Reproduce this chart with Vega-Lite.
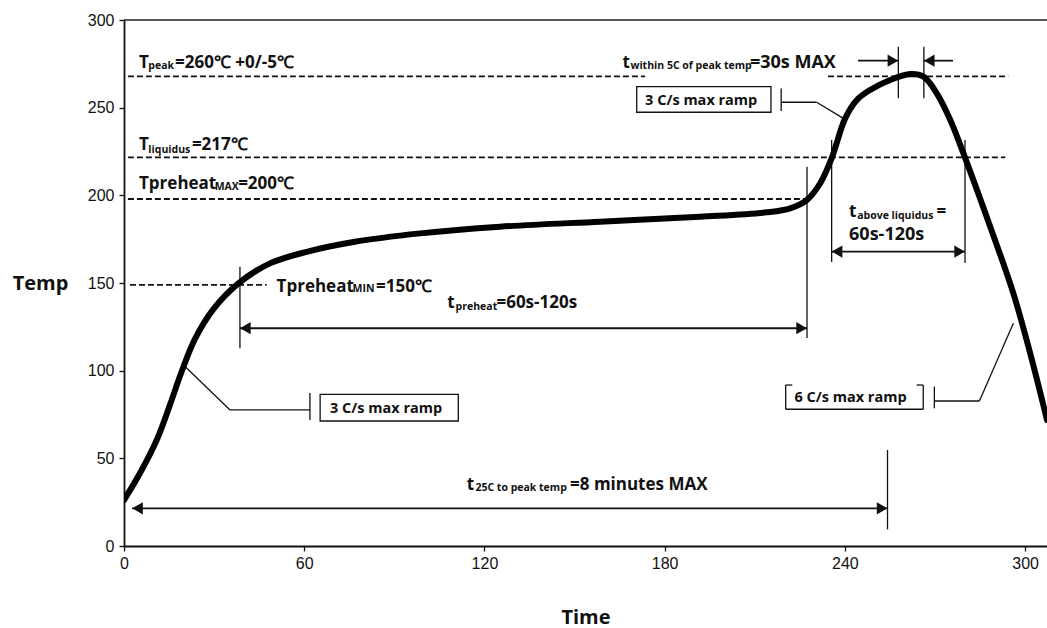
{
  "$schema": "https://vega.github.io/schema/vega-lite/v6.json",
  "width": 923,
  "height": 526,
  "autosize": {"type": "none"},
  "padding": {"left": 124, "top": 20, "right": 0, "bottom": 82},
  "background": "white",
  "config": {
    "view": {"stroke": null},
    "axis": {"grid": false, "labelFont": "Liberation Sans", "labelFontSize": 16, "labelColor": "#111", "tickColor": "#111", "tickSize": 5, "tickWidth": 1.3, "domainColor": "#111", "domainWidth": 1.8, "titleFont": "Open Sans", "titleFontSize": 20, "titleFontWeight": "bold", "titleColor": "#111", "labelFlush": false},
    "text": {"font": "Open Sans", "fontWeight": "bold", "color": "#111", "align": "left", "baseline": "alphabetic"}
  },
  "datasets": {
    "profile": [
      {"time": 0, "temp": 26.2}, {"time": 5.3, "temp": 41.5}, {"time": 10.9, "temp": 60.5}, {"time": 15.3, "temp": 80.5},
      {"time": 19.2, "temp": 99.5}, {"time": 23.6, "temp": 118.0}, {"time": 29.7, "temp": 135.0}, {"time": 38.1, "temp": 149.8},
      {"time": 48.6, "temp": 161.2}, {"time": 60.8, "temp": 167.8}, {"time": 76.4, "temp": 173.4}, {"time": 98.6, "temp": 178.3},
      {"time": 125.2, "temp": 182.1}, {"time": 158.5, "temp": 185.0}, {"time": 191.8, "temp": 187.8}, {"time": 214.0, "temp": 190.3},
      {"time": 221.8, "temp": 192.6}, {"time": 227.3, "temp": 197.3}, {"time": 231.8, "temp": 206.9}, {"time": 235.6, "temp": 221.1},
      {"time": 240.1, "temp": 243.9}, {"time": 244.0, "temp": 254.4}, {"time": 248.4, "temp": 260.1}, {"time": 255.1, "temp": 265.8},
      {"time": 261.8, "temp": 269.2}, {"time": 266.2, "temp": 267.7}, {"time": 270.6, "temp": 258.2}, {"time": 275.1, "temp": 243.0},
      {"time": 280.1, "temp": 221.1}, {"time": 288.4, "temp": 182.1}, {"time": 296.1, "temp": 144.1}, {"time": 301.7, "temp": 109.9},
      {"time": 307.3, "temp": 71.9}
    ],
    "frame": [{"time": 0, "time2": 307.3, "temp": 300}],
    "limits": [
      {"time": 1.3, "time2": 173.5, "temp": 267.9},
      {"time": 234.4, "time2": 294.4, "temp": 267.9},
      {"time": 1.3, "time2": 293.4, "temp": 221.7},
      {"time": 1.3, "time2": 227.1, "temp": 197.9},
      {"time": 2.0, "time2": 47.5, "temp": 148.9}
    ],
    "guides": [
      {"time": 38.6, "time2": 38.6, "temp": 159.3, "temp2": 112.8},
      {"time": 227.4, "time2": 227.4, "temp": 216.3, "temp2": 118.6},
      {"time": 235.6, "time2": 235.6, "temp": 231.6, "temp2": 162.0},
      {"time": 280.0, "time2": 280.0, "temp": 231.6, "temp2": 161.4},
      {"time": 257.8, "time2": 257.8, "temp": 284.8, "temp2": 255.3},
      {"time": 266.3, "time2": 266.3, "temp": 284.8, "temp2": 255.3},
      {"time": 254.2, "time2": 254.2, "temp": 54.8, "temp2": 9.5},
      {"time": 19.2, "time2": 35.3, "temp": 104.2, "temp2": 77.6},
      {"time": 35.3, "time2": 61.9, "temp": 77.6, "temp2": 77.6},
      {"time": 61.9, "time2": 61.9, "temp": 87.3, "temp2": 71.9},
      {"time": 239.5, "time2": 230.6, "temp": 243.9, "temp2": 253.1},
      {"time": 230.6, "time2": 218.8, "temp": 253.1, "temp2": 253.1},
      {"time": 218.8, "time2": 218.8, "temp": 261.0, "temp2": 248.1},
      {"time": 296.1, "time2": 284.8, "temp": 127.0, "temp2": 82.7},
      {"time": 284.8, "time2": 269.8, "temp": 82.7, "temp2": 82.7},
      {"time": 269.8, "time2": 269.8, "temp": 90.9, "temp2": 78.5},
      {"time": 220.3, "time2": 220.3, "temp": 91.8, "temp2": 78.0},
      {"time": 266.1, "time2": 266.1, "temp": 91.8, "temp2": 78.0},
      {"time": 220.3, "time2": 266.1, "temp": 78.0, "temp2": 78.0},
      {"time": 220.3, "time2": 222.5, "temp": 91.8, "temp2": 91.8},
      {"time": 263.9, "time2": 266.1, "temp": 91.8, "temp2": 91.8}
    ],
    "arrows": [
      {"time": 38.6, "time2": 227.4, "temp": 124.2},
      {"time": 235.6, "time2": 280.0, "temp": 167.9},
      {"time": 2.7, "time2": 254.2, "temp": 21.5},
      {"time": 244.4, "time2": 257.8, "temp": 276.8},
      {"time": 266.3, "time2": 276.0, "temp": 276.8}
    ],
    "heads": [
      {"time": 40.4, "temp": 124.2, "dir": "left"},
      {"time": 225.6, "temp": 124.2, "dir": "right"},
      {"time": 237.4, "temp": 167.9, "dir": "left"},
      {"time": 278.2, "temp": 167.9, "dir": "right"},
      {"time": 4.5, "temp": 21.5, "dir": "left"},
      {"time": 252.4, "temp": 21.5, "dir": "right"},
      {"time": 256.0, "temp": 276.8, "dir": "right"},
      {"time": 268.1, "temp": 276.8, "dir": "left"}
    ],
    "boxes": [
      {"time": 65.3, "time2": 111.3, "temp": 86.5, "temp2": 71.3},
      {"time": 170.7, "time2": 215.4, "temp": 262.0, "temp2": 247.4}
    ],
    "textMain": [
      {"time": 5.0, "temp": 272.7, "label": "T"},
      {"time": 17.0, "temp": 272.7, "label": "=260℃ +0/-5℃"},
      {"time": 5.0, "temp": 225.6, "label": "T"},
      {"time": 22.6, "temp": 225.6, "label": "=217℃"},
      {"time": 5.0, "temp": 203.5, "label": "Tpreheat"},
      {"time": 38.0, "temp": 203.5, "label": "=200℃"},
      {"time": 50.8, "temp": 145.0, "label": "Tpreheat"},
      {"time": 83.9, "temp": 145.0, "label": "=150℃"},
      {"time": 107.6, "temp": 135.6, "label": "t"},
      {"time": 124.0, "temp": 135.6, "label": "=60s-120s"},
      {"time": 166.0, "temp": 272.9, "label": "t"},
      {"time": 241.4, "temp": 187.5, "label": "t"},
      {"time": 270.5, "temp": 187.5, "label": "="},
      {"time": 114.1, "temp": 31.9, "label": "t"},
      {"time": 148.5, "temp": 31.9, "label": "=8 minutes MAX"}
    ],
    "textSub": [
      {"time": 8.1, "temp": 271.8, "label": "peak"},
      {"time": 8.1, "temp": 224.4, "label": "liquidus"},
      {"time": 30.2, "temp": 202.8, "label": "MAX"},
      {"time": 76.1, "temp": 144.6, "label": "MIN"},
      {"time": 110.4, "temp": 134.6, "label": "preheat"},
      {"time": 168.6, "temp": 272.0, "label": "within 5C of peak temp"},
      {"time": 244.1, "temp": 186.7, "label": "above liquidus"},
      {"time": 117.0, "temp": 31.1, "label": "25C to peak temp"}
    ],
    "textBig": [
      {"time": 208.4, "temp": 272.9, "label": "=30s MAX"},
      {"time": 241.4, "temp": 174.4, "label": "60s-120s"}
    ],
    "textBox": [
      {"time": 68.6, "temp": 75.7, "label": "3 C/s max ramp"},
      {"time": 173.5, "temp": 251.5, "label": "3 C/s max ramp"},
      {"time": 223.2, "temp": 82.0, "label": "6 C/s max ramp"}
    ]
  },
  "encoding": {
    "x": {
      "field": "time", "type": "quantitative", "title": "Time",
      "scale": {"domain": [0, 307.3], "nice": false, "zero": false},
      "axis": {"values": [0, 60, 120, 180, 240, 300], "labelPadding": 4, "titleY": 77, "titleBaseline": "alphabetic"}
    },
    "y": {
      "field": "temp", "type": "quantitative", "title": "Temp",
      "scale": {"domain": [0, 300], "nice": false, "zero": false},
      "axis": {"values": [0, 50, 100, 150, 200, 250, 300], "labelPadding": 5, "titleAngle": 0, "titleX": -84, "titleY": 263, "titleAlign": "center", "titleBaseline": "middle"}
    }
  },
  "layer": [
    {"data": {"name": "frame"}, "mark": {"type": "rule", "color": "#222", "strokeWidth": 1.3}, "encoding": {"x2": {"field": "time2"}}},
    {"data": {"name": "limits"}, "mark": {"type": "rule", "color": "#111", "strokeWidth": 1.8, "strokeDash": [6, 3]}, "encoding": {"x2": {"field": "time2"}}},
    {"data": {"name": "guides"}, "mark": {"type": "rule", "color": "#111", "strokeWidth": 1.3}, "encoding": {"x2": {"field": "time2"}, "y2": {"field": "temp2"}}},
    {"data": {"name": "arrows"}, "mark": {"type": "rule", "color": "#111", "strokeWidth": 1.8}, "encoding": {"x2": {"field": "time2"}}},
    {"data": {"name": "heads"}, "mark": {"type": "point", "filled": true, "color": "#111", "size": 150, "opacity": 1},
      "encoding": {"shape": {"field": "dir", "type": "nominal", "scale": {"domain": ["left", "right"], "range": ["triangle-left", "triangle-right"]}, "legend": null}}},
    {"data": {"name": "profile"}, "mark": {"type": "line", "color": "#000", "strokeWidth": 6, "interpolate": "catmull-rom", "strokeCap": "round", "strokeJoin": "round", "clip": true}, "encoding": {}},
    {"data": {"name": "boxes"}, "mark": {"type": "rect", "fill": "white", "stroke": "#111", "strokeWidth": 1.3}, "encoding": {"x2": {"field": "time2"}, "y2": {"field": "temp2"}}},
    {"data": {"name": "textMain"}, "mark": {"type": "text", "fontSize": 17}, "encoding": {"text": {"field": "label"}}},
    {"data": {"name": "textSub"}, "mark": {"type": "text", "fontSize": 10.5}, "encoding": {"text": {"field": "label"}}},
    {"data": {"name": "textBig"}, "mark": {"type": "text", "fontSize": 18}, "encoding": {"text": {"field": "label"}}},
    {"data": {"name": "textBox"}, "mark": {"type": "text", "fontSize": 14.5}, "encoding": {"text": {"field": "label"}}}
  ]
}
